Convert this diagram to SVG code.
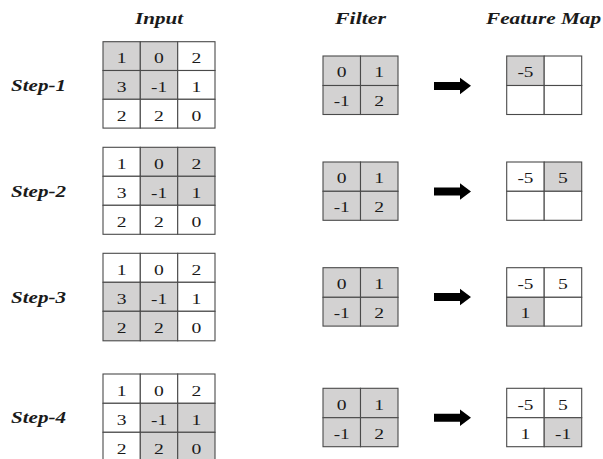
<svg xmlns="http://www.w3.org/2000/svg" width="603" height="459" viewBox="0 0 603 459">
<style>
.w,.g{stroke:#4a4a4a;stroke-width:1.1}
.w{fill:#ffffff}
.g{fill:#d3d2d2}
text{font-family:"Liberation Serif","Times New Roman",serif;fill:#1a1a1a}
.n{font-size:15px;text-anchor:middle}
.h{font-size:16px;font-weight:bold;font-style:italic}
.arrow{fill:#000}
</style>
<rect x="0" y="0" width="603" height="459" fill="#fff"/>
<g id="headers">
<text class="h" x="135" y="23.5" textLength="48" lengthAdjust="spacingAndGlyphs">Input</text>
<text class="h" x="335" y="23.5" textLength="51" lengthAdjust="spacingAndGlyphs">Filter</text>
<text class="h" x="486" y="23.5" textLength="115" lengthAdjust="spacingAndGlyphs">Feature Map</text>
</g>
<g id="step-labels">
<text class="h" x="11" y="91" textLength="55" lengthAdjust="spacingAndGlyphs">Step-1</text>
<text class="h" x="11" y="197" textLength="55" lengthAdjust="spacingAndGlyphs">Step-2</text>
<text class="h" x="11" y="303" textLength="55" lengthAdjust="spacingAndGlyphs">Step-3</text>
<text class="h" x="11" y="423" textLength="55" lengthAdjust="spacingAndGlyphs">Step-4</text>
</g>

<!-- Step 1 -->
<g id="input-1">
<rect class="g" x="103" y="41.7" width="37.3" height="28.8"/>
<rect class="g" x="140.3" y="41.7" width="37.4" height="28.8"/>
<rect class="w" x="177.7" y="41.7" width="37.3" height="28.8"/>
<rect class="g" x="103" y="70.5" width="37.3" height="28.8"/>
<rect class="g" x="140.3" y="70.5" width="37.4" height="28.8"/>
<rect class="w" x="177.7" y="70.5" width="37.3" height="28.8"/>
<rect class="w" x="103" y="99.3" width="37.3" height="28.8"/>
<rect class="w" x="140.3" y="99.3" width="37.4" height="28.8"/>
<rect class="w" x="177.7" y="99.3" width="37.3" height="28.8"/>
<text class="n" x="121.7" y="63" textLength="9.8" lengthAdjust="spacingAndGlyphs">1</text>
<text class="n" x="159" y="63" textLength="9.8" lengthAdjust="spacingAndGlyphs">0</text>
<text class="n" x="196.4" y="63" textLength="9.8" lengthAdjust="spacingAndGlyphs">2</text>
<text class="n" x="121.7" y="91.8" textLength="9.8" lengthAdjust="spacingAndGlyphs">3</text>
<text class="n" x="159" y="91.8" textLength="16" lengthAdjust="spacingAndGlyphs">-1</text>
<text class="n" x="196.4" y="91.8" textLength="9.8" lengthAdjust="spacingAndGlyphs">1</text>
<text class="n" x="121.7" y="120.6" textLength="9.8" lengthAdjust="spacingAndGlyphs">2</text>
<text class="n" x="159" y="120.6" textLength="9.8" lengthAdjust="spacingAndGlyphs">2</text>
<text class="n" x="196.4" y="120.6" textLength="9.8" lengthAdjust="spacingAndGlyphs">0</text>
</g>
<g id="filter-1">
<rect class="g" x="323" y="56" width="37.5" height="29.5"/>
<rect class="g" x="360.5" y="56" width="37.5" height="29.5"/>
<rect class="g" x="323" y="85.5" width="37.5" height="29"/>
<rect class="g" x="360.5" y="85.5" width="37.5" height="29"/>
<text class="n" x="341.7" y="77.4" textLength="9.8" lengthAdjust="spacingAndGlyphs">0</text>
<text class="n" x="379.2" y="77.4" textLength="9.8" lengthAdjust="spacingAndGlyphs">1</text>
<text class="n" x="341.7" y="106.4" textLength="16" lengthAdjust="spacingAndGlyphs">-1</text>
<text class="n" x="379.2" y="106.4" textLength="9.8" lengthAdjust="spacingAndGlyphs">2</text>
</g>
<g id="map-1">
<rect class="g" x="506.7" y="56" width="37.5" height="29.5"/>
<rect class="w" x="544.2" y="56" width="37.5" height="29.5"/>
<rect class="w" x="506.7" y="85.5" width="37.5" height="29"/>
<rect class="w" x="544.2" y="85.5" width="37.5" height="29"/>
<text class="n" x="525.4" y="77.4" textLength="16" lengthAdjust="spacingAndGlyphs">-5</text>
</g>

<!-- Step 2 -->
<g id="input-2">
<rect class="w" x="103" y="147.3" width="37.3" height="29"/>
<rect class="g" x="140.3" y="147.3" width="37.4" height="29"/>
<rect class="g" x="177.7" y="147.3" width="37.3" height="29"/>
<rect class="w" x="103" y="176.3" width="37.3" height="29"/>
<rect class="g" x="140.3" y="176.3" width="37.4" height="29"/>
<rect class="g" x="177.7" y="176.3" width="37.3" height="29"/>
<rect class="w" x="103" y="205.3" width="37.3" height="29"/>
<rect class="w" x="140.3" y="205.3" width="37.4" height="29"/>
<rect class="w" x="177.7" y="205.3" width="37.3" height="29"/>
<text class="n" x="121.7" y="168.7" textLength="9.8" lengthAdjust="spacingAndGlyphs">1</text>
<text class="n" x="159" y="168.7" textLength="9.8" lengthAdjust="spacingAndGlyphs">0</text>
<text class="n" x="196.4" y="168.7" textLength="9.8" lengthAdjust="spacingAndGlyphs">2</text>
<text class="n" x="121.7" y="197.7" textLength="9.8" lengthAdjust="spacingAndGlyphs">3</text>
<text class="n" x="159" y="197.7" textLength="16" lengthAdjust="spacingAndGlyphs">-1</text>
<text class="n" x="196.4" y="197.7" textLength="9.8" lengthAdjust="spacingAndGlyphs">1</text>
<text class="n" x="121.7" y="226.7" textLength="9.8" lengthAdjust="spacingAndGlyphs">2</text>
<text class="n" x="159" y="226.7" textLength="9.8" lengthAdjust="spacingAndGlyphs">2</text>
<text class="n" x="196.4" y="226.7" textLength="9.8" lengthAdjust="spacingAndGlyphs">0</text>
</g>
<g id="filter-2">
<rect class="g" x="323" y="162" width="37.5" height="29.3"/>
<rect class="g" x="360.5" y="162" width="37.5" height="29.3"/>
<rect class="g" x="323" y="191.3" width="37.5" height="29"/>
<rect class="g" x="360.5" y="191.3" width="37.5" height="29"/>
<text class="n" x="341.7" y="183.4" textLength="9.8" lengthAdjust="spacingAndGlyphs">0</text>
<text class="n" x="379.2" y="183.4" textLength="9.8" lengthAdjust="spacingAndGlyphs">1</text>
<text class="n" x="341.7" y="212.4" textLength="16" lengthAdjust="spacingAndGlyphs">-1</text>
<text class="n" x="379.2" y="212.4" textLength="9.8" lengthAdjust="spacingAndGlyphs">2</text>
</g>
<g id="map-2">
<rect class="w" x="506.7" y="162" width="37.5" height="29.3"/>
<rect class="g" x="544.2" y="162" width="37.5" height="29.3"/>
<rect class="w" x="506.7" y="191.3" width="37.5" height="29"/>
<rect class="w" x="544.2" y="191.3" width="37.5" height="29"/>
<text class="n" x="525.4" y="183.4" textLength="16" lengthAdjust="spacingAndGlyphs">-5</text>
<text class="n" x="563" y="183.4" textLength="9.8" lengthAdjust="spacingAndGlyphs">5</text>
</g>

<!-- Step 3 -->
<g id="input-3">
<rect class="w" x="103" y="253.3" width="37.3" height="29"/>
<rect class="w" x="140.3" y="253.3" width="37.4" height="29"/>
<rect class="w" x="177.7" y="253.3" width="37.3" height="29"/>
<rect class="g" x="103" y="282.3" width="37.3" height="29"/>
<rect class="g" x="140.3" y="282.3" width="37.4" height="29"/>
<rect class="w" x="177.7" y="282.3" width="37.3" height="29"/>
<rect class="g" x="103" y="311.3" width="37.3" height="29.5"/>
<rect class="g" x="140.3" y="311.3" width="37.4" height="29.5"/>
<rect class="w" x="177.7" y="311.3" width="37.3" height="29.5"/>
<text class="n" x="121.7" y="274.7" textLength="9.8" lengthAdjust="spacingAndGlyphs">1</text>
<text class="n" x="159" y="274.7" textLength="9.8" lengthAdjust="spacingAndGlyphs">0</text>
<text class="n" x="196.4" y="274.7" textLength="9.8" lengthAdjust="spacingAndGlyphs">2</text>
<text class="n" x="121.7" y="303.7" textLength="9.8" lengthAdjust="spacingAndGlyphs">3</text>
<text class="n" x="159" y="303.7" textLength="16" lengthAdjust="spacingAndGlyphs">-1</text>
<text class="n" x="196.4" y="303.7" textLength="9.8" lengthAdjust="spacingAndGlyphs">1</text>
<text class="n" x="121.7" y="332.9" textLength="9.8" lengthAdjust="spacingAndGlyphs">2</text>
<text class="n" x="159" y="332.9" textLength="9.8" lengthAdjust="spacingAndGlyphs">2</text>
<text class="n" x="196.4" y="332.9" textLength="9.8" lengthAdjust="spacingAndGlyphs">0</text>
</g>
<g id="filter-3">
<rect class="g" x="323" y="267.7" width="37.5" height="29.6"/>
<rect class="g" x="360.5" y="267.7" width="37.5" height="29.6"/>
<rect class="g" x="323" y="297.3" width="37.5" height="28.8"/>
<rect class="g" x="360.5" y="297.3" width="37.5" height="28.8"/>
<text class="n" x="341.7" y="289.4" textLength="9.8" lengthAdjust="spacingAndGlyphs">0</text>
<text class="n" x="379.2" y="289.4" textLength="9.8" lengthAdjust="spacingAndGlyphs">1</text>
<text class="n" x="341.7" y="318.4" textLength="16" lengthAdjust="spacingAndGlyphs">-1</text>
<text class="n" x="379.2" y="318.4" textLength="9.8" lengthAdjust="spacingAndGlyphs">2</text>
</g>
<g id="map-3">
<rect class="w" x="506.7" y="267.7" width="37.5" height="29.6"/>
<rect class="w" x="544.2" y="267.7" width="37.5" height="29.6"/>
<rect class="g" x="506.7" y="297.3" width="37.5" height="28.8"/>
<rect class="w" x="544.2" y="297.3" width="37.5" height="28.8"/>
<text class="n" x="525.4" y="289.4" textLength="16" lengthAdjust="spacingAndGlyphs">-5</text>
<text class="n" x="563" y="289.4" textLength="9.8" lengthAdjust="spacingAndGlyphs">5</text>
<text class="n" x="525.4" y="318.4" textLength="9.8" lengthAdjust="spacingAndGlyphs">1</text>
</g>

<!-- Step 4 -->
<g id="input-4">
<rect class="w" x="103" y="374" width="37.3" height="29.3"/>
<rect class="w" x="140.3" y="374" width="37.4" height="29.3"/>
<rect class="w" x="177.7" y="374" width="37.3" height="29.3"/>
<rect class="w" x="103" y="403.3" width="37.3" height="29"/>
<rect class="g" x="140.3" y="403.3" width="37.4" height="29"/>
<rect class="g" x="177.7" y="403.3" width="37.3" height="29"/>
<rect class="w" x="103" y="432.3" width="37.3" height="29.5"/>
<rect class="g" x="140.3" y="432.3" width="37.4" height="29.5"/>
<rect class="g" x="177.7" y="432.3" width="37.3" height="29.5"/>
<text class="n" x="121.7" y="395.7" textLength="9.8" lengthAdjust="spacingAndGlyphs">1</text>
<text class="n" x="159" y="395.7" textLength="9.8" lengthAdjust="spacingAndGlyphs">0</text>
<text class="n" x="196.4" y="395.7" textLength="9.8" lengthAdjust="spacingAndGlyphs">2</text>
<text class="n" x="121.7" y="424.7" textLength="9.8" lengthAdjust="spacingAndGlyphs">3</text>
<text class="n" x="159" y="424.7" textLength="16" lengthAdjust="spacingAndGlyphs">-1</text>
<text class="n" x="196.4" y="424.7" textLength="9.8" lengthAdjust="spacingAndGlyphs">1</text>
<text class="n" x="121.7" y="453.7" textLength="9.8" lengthAdjust="spacingAndGlyphs">2</text>
<text class="n" x="159" y="453.7" textLength="9.8" lengthAdjust="spacingAndGlyphs">2</text>
<text class="n" x="196.4" y="453.7" textLength="9.8" lengthAdjust="spacingAndGlyphs">0</text>
</g>
<g id="filter-4">
<rect class="g" x="323" y="388.3" width="37.5" height="29.4"/>
<rect class="g" x="360.5" y="388.3" width="37.5" height="29.4"/>
<rect class="g" x="323" y="417.7" width="37.5" height="29"/>
<rect class="g" x="360.5" y="417.7" width="37.5" height="29"/>
<text class="n" x="341.7" y="409.9" textLength="9.8" lengthAdjust="spacingAndGlyphs">0</text>
<text class="n" x="379.2" y="409.9" textLength="9.8" lengthAdjust="spacingAndGlyphs">1</text>
<text class="n" x="341.7" y="438.9" textLength="16" lengthAdjust="spacingAndGlyphs">-1</text>
<text class="n" x="379.2" y="438.9" textLength="9.8" lengthAdjust="spacingAndGlyphs">2</text>
</g>
<g id="map-4">
<rect class="w" x="506.7" y="388.3" width="37.5" height="29.4"/>
<rect class="w" x="544.2" y="388.3" width="37.5" height="29.4"/>
<rect class="w" x="506.7" y="417.7" width="37.5" height="29"/>
<rect class="g" x="544.2" y="417.7" width="37.5" height="29"/>
<text class="n" x="525.4" y="409.9" textLength="16" lengthAdjust="spacingAndGlyphs">-5</text>
<text class="n" x="563" y="409.9" textLength="9.8" lengthAdjust="spacingAndGlyphs">5</text>
<text class="n" x="525.4" y="438.9" textLength="9.8" lengthAdjust="spacingAndGlyphs">1</text>
<text class="n" x="563" y="438.9" textLength="16" lengthAdjust="spacingAndGlyphs">-1</text>
</g>

<g id="connectors">
<polygon class="arrow" points="434,82 460,82 460,77.7 471,85.8 460,94.3 460,90 434,90"/>
<polygon class="arrow" points="434,187.5 460,187.5 460,183.2 471,191.5 460,199.8 460,195.5 434,195.5"/>
<polygon class="arrow" points="434,293 460,293 460,288.7 471,297 460,305.3 460,301 434,301"/>
<polygon class="arrow" points="434,413.7 460,413.7 460,409.4 471,417.7 460,426 460,421.7 434,421.7"/>
</g>
</svg>
